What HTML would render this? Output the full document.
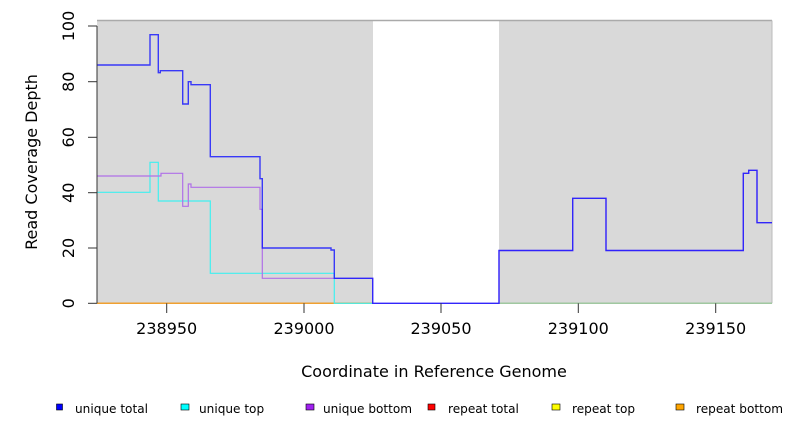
<!DOCTYPE html>
<html><head><meta charset="utf-8"><style>
body{margin:0;background:#fff}
svg{display:block;font-family:"DejaVu Sans","Liberation Sans",sans-serif}
</style></head><body>
<svg width="792" height="432" viewBox="0 0 792 432">
<rect x="97" y="20.5" width="276" height="283" fill="#d9d9d9"/>
<rect x="499" y="20.5" width="273" height="283" fill="#d9d9d9"/>
<line x1="97" y1="20.5" x2="772" y2="20.5" stroke="#aaa" stroke-width="1.5"/>
<line x1="772" y1="20.5" x2="772" y2="303.3" stroke="#bbb" stroke-width="1"/>
<line x1="97" y1="303.3" x2="373" y2="303.3" stroke="#f0a030" stroke-width="1.5"/>
<line x1="499" y1="303.3" x2="772" y2="303.3" stroke="#a0c8a0" stroke-width="1.5"/>
<polyline fill="none" stroke="#40f0f0" stroke-width="1.2" points="97,192.3 150,192.3 150,162.3 158.3,162.3 158.3,201 210.3,201 210.3,273.3 334.3,273.3 334.3,303.3 373,303.3"/>
<polyline fill="none" stroke="#b070e8" stroke-width="1.2" points="97,176 161,176 161,173.3 182.7,173.3 182.7,206.3 188.3,206.3 188.3,184 191,184 191,187.3 260,187.3 260,209.3 262.3,209.3 262.3,278.3 372.7,278.3 372.7,303.3 499,303.3 499,250.5 572.7,250.5 572.7,198.3 606,198.3 606,250.5 743.3,250.5 743.3,173.3 748.7,173.3 748.7,170.3 757,170.3 757,222.7 772,222.7"/>
<polyline fill="none" stroke="#1010ff" stroke-opacity="0.8" stroke-width="1.4" points="97,65 150,65 150,34.7 158.3,34.7 158.3,72.7 160.3,72.7 160.3,70.7 182.7,70.7 182.7,104 188.3,104 188.3,81.7 191,81.7 191,84.7 210.3,84.7 210.3,156.7 260,156.7 260,178.7 262.3,178.7 262.3,248 331,248 331,250 334.3,250 334.3,278.3 372.7,278.3 372.7,303.3 499,303.3 499,250.5 572.7,250.5 572.7,198.3 606,198.3 606,250.5 743.3,250.5 743.3,173.3 748.7,173.3 748.7,170.3 757,170.3 757,222.7 772,222.7"/>
<g stroke="#333" stroke-width="1">
<line x1="97" y1="26" x2="97" y2="303.3"/>
<line x1="88" y1="303.3" x2="97" y2="303.3"/>
<line x1="88" y1="248" x2="97" y2="248"/>
<line x1="88" y1="192.7" x2="97" y2="192.7"/>
<line x1="88" y1="137.3" x2="97" y2="137.3"/>
<line x1="88" y1="81.7" x2="97" y2="81.7"/>
<line x1="88" y1="26" x2="97" y2="26"/>
<line x1="166.7" y1="303.3" x2="166.7" y2="313"/>
<line x1="304" y1="303.3" x2="304" y2="313"/>
<line x1="441" y1="303.3" x2="441" y2="313"/>
<line x1="578.3" y1="303.3" x2="578.3" y2="313"/>
<line x1="715.7" y1="303.3" x2="715.7" y2="313"/>
</g>
<g font-size="16" fill="#000" text-anchor="middle">
<text transform="translate(74,303.3) rotate(-90)">0</text>
<text transform="translate(74,248) rotate(-90)">20</text>
<text transform="translate(74,192.7) rotate(-90)">40</text>
<text transform="translate(74,137.3) rotate(-90)">60</text>
<text transform="translate(74,81.7) rotate(-90)">80</text>
<text transform="translate(74,26) rotate(-90)">100</text>
<text x="166.7" y="334">238950</text>
<text x="304" y="334">239000</text>
<text x="441" y="334">239050</text>
<text x="578.3" y="334">239100</text>
<text x="715.7" y="334">239150</text>
<text x="434" y="377">Coordinate in Reference Genome</text>
<text transform="translate(37,162) rotate(-90)">Read Coverage Depth</text>
</g>
<g stroke="#000" stroke-width="0.6">
<rect x="56.5" y="404" width="6" height="6" fill="#0000ff"/>
<rect x="181" y="404" width="8" height="6" fill="#00ffff"/>
<rect x="306" y="404" width="8" height="6" fill="#a020f0"/>
<rect x="428" y="404" width="7" height="6" fill="#ff0000"/>
<rect x="552" y="404" width="8" height="6" fill="#ffff00"/>
<rect x="676" y="404" width="8" height="6" fill="#ffa500"/>
</g>
<g font-size="12.1" fill="#000">
<text x="75" y="413">unique total</text>
<text x="199" y="413">unique top</text>
<text x="323" y="413">unique bottom</text>
<text x="448" y="413">repeat total</text>
<text x="572" y="413">repeat top</text>
<text x="696" y="413">repeat bottom</text>
</g>
</svg>
</body></html>
